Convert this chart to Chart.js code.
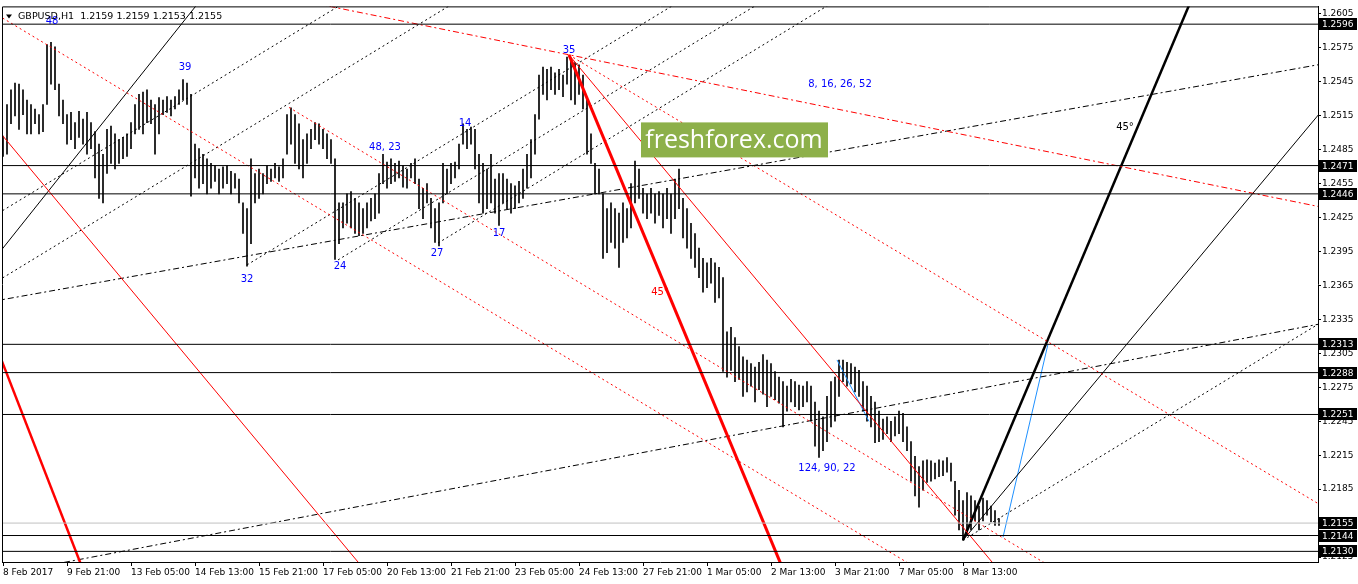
<!DOCTYPE html>
<html>
<head>
<meta charset="utf-8">
<script src="https://cdn.jsdelivr.net/npm/chart.js@4/dist/chart.umd.min.js"></script>
<style>
  html, body { margin: 0; padding: 0; background: #fff; }
  #chart { display: block; }
</style>
</head>
<body>
<canvas id="chart" width="1358" height="584"></canvas>
<script>
// ---- data ----
const timeLabels = ["8 Feb 2017", "9 Feb 21:00", "13 Feb 05:00", "14 Feb 13:00", "15 Feb 21:00",
  "17 Feb 05:00", "20 Feb 13:00", "21 Feb 21:00", "23 Feb 05:00", "24 Feb 13:00", "27 Feb 21:00",
  "1 Mar 05:00", "2 Mar 13:00", "3 Mar 21:00", "7 Mar 05:00", "8 Mar 13:00"];
const labelHours = [0, 32, 64, 96, 128, 160, 192, 224, 256, 288, 320, 352, 384, 416, 448, 480];
const priceTicks = [1.2125, 1.2155, 1.2185, 1.2215, 1.2245, 1.2275, 1.2305, 1.2335, 1.2365,
  1.2395, 1.2425, 1.2455, 1.2485, 1.2515, 1.2545, 1.2575, 1.2605];

// one bar every 2 hours
const highs = [
  1.2497, 1.2525, 1.2538, 1.2544, 1.2543, 1.2538, 1.2529, 1.2525, 1.2521, 1.2516,
  1.2525, 1.2578, 1.2580, 1.2576, 1.2543, 1.2529, 1.2516, 1.2518, 1.2509, 1.2519,
  1.2512, 1.2518, 1.2509, 1.2501, 1.2490, 1.2481, 1.2503, 1.2506, 1.2499, 1.2494,
  1.2496, 1.2499, 1.2509, 1.2525, 1.2534, 1.2536, 1.2538, 1.2529, 1.2525, 1.2531,
  1.2529, 1.2532, 1.2529, 1.2532, 1.2538, 1.2547, 1.2544, 1.2534, 1.2490, 1.2486,
  1.2481, 1.2477, 1.2473, 1.2471, 1.2468, 1.2470, 1.2471, 1.2466, 1.2464, 1.2459,
  1.2438, 1.2433, 1.2477, 1.2464, 1.2468, 1.2464, 1.2471, 1.2468, 1.2473, 1.2470,
  1.2477, 1.2516, 1.2522, 1.2516, 1.2508, 1.2494, 1.2499, 1.2503, 1.2509, 1.2508,
  1.2503, 1.2499, 1.2494, 1.2477, 1.2438, 1.2438, 1.2446, 1.2448, 1.2442, 1.2438,
  1.2433, 1.2438, 1.2442, 1.2446, 1.2464, 1.2481, 1.2474, 1.2477, 1.2473, 1.2475,
  1.2471, 1.2468, 1.2473, 1.2477, 1.2459, 1.2451, 1.2455, 1.2442, 1.2433, 1.2438,
  1.2473, 1.2468, 1.2473, 1.2474, 1.2490, 1.2508, 1.2503, 1.2505, 1.2503, 1.2481,
  1.2473, 1.2468, 1.2481, 1.2459, 1.2464, 1.2464, 1.2459, 1.2455, 1.2453, 1.2457,
  1.2468, 1.2481, 1.2494, 1.2516, 1.2551, 1.2558, 1.2556, 1.2558, 1.2553, 1.2556,
  1.2551, 1.2567, 1.2564, 1.2562, 1.2560, 1.2551, 1.2529, 1.2499, 1.2473, 1.2468,
  1.2446, 1.2433, 1.2438, 1.2433, 1.2429, 1.2438, 1.2433, 1.2455, 1.2475, 1.2468,
  1.2451, 1.2446, 1.2451, 1.2446, 1.2448, 1.2446, 1.2451, 1.2446, 1.2459, 1.2468,
  1.2442, 1.2433, 1.2420, 1.2411, 1.2398, 1.2389, 1.2385, 1.2389, 1.2385, 1.2381,
  1.2372, 1.2324, 1.2328, 1.2319, 1.2311, 1.2302, 1.2299, 1.2296, 1.2293, 1.2297,
  1.2304, 1.2299, 1.2296, 1.2289, 1.2284, 1.2280, 1.2276, 1.2282, 1.2280, 1.2277,
  1.2276, 1.2280, 1.2276, 1.2262, 1.2254, 1.2249, 1.2267, 1.2280, 1.2284, 1.2299,
  1.2299, 1.2297, 1.2296, 1.2293, 1.2290, 1.2280, 1.2276, 1.2267, 1.2262, 1.2254,
  1.2247, 1.2249, 1.2245, 1.2249, 1.2254, 1.2252, 1.2240, 1.2227, 1.2214, 1.2205,
  1.2210, 1.2211, 1.2210, 1.2208, 1.2211, 1.2210, 1.2213, 1.2208, 1.2192, 1.2184,
  1.2175, 1.2182, 1.2179, 1.2175, 1.2170, 1.2177, 1.2175, 1.2170, 1.2166, 1.2159
];
const lows = [
  1.2479, 1.2481, 1.2508, 1.2515, 1.2503, 1.2516, 1.2499, 1.2499, 1.2508, 1.2499,
  1.2501, 1.2525, 1.2543, 1.2538, 1.2515, 1.2508, 1.2490, 1.2494, 1.2486, 1.2496,
  1.2490, 1.2481, 1.2486, 1.2460, 1.2442, 1.2438, 1.2464, 1.2473, 1.2468, 1.2473,
  1.2477, 1.2479, 1.2486, 1.2499, 1.2503, 1.2499, 1.2509, 1.2508, 1.2481, 1.2499,
  1.2516, 1.2518, 1.2515, 1.2521, 1.2525, 1.2529, 1.2525, 1.2444, 1.2460, 1.2451,
  1.2455, 1.2446, 1.2451, 1.2457, 1.2446, 1.2451, 1.2455, 1.2446, 1.2451, 1.2438,
  1.2411, 1.2382, 1.2402, 1.2438, 1.2442, 1.2446, 1.2455, 1.2457, 1.2460, 1.2457,
  1.2460, 1.2481, 1.2490, 1.2473, 1.2468, 1.2460, 1.2473, 1.2486, 1.2494, 1.2490,
  1.2486, 1.2477, 1.2473, 1.2388, 1.2402, 1.2416, 1.2420, 1.2416, 1.2411, 1.2409,
  1.2411, 1.2416, 1.2422, 1.2424, 1.2429, 1.2455, 1.2451, 1.2455, 1.2457, 1.2460,
  1.2452, 1.2451, 1.2460, 1.2455, 1.2433, 1.2424, 1.2438, 1.2416, 1.2403, 1.2400,
  1.2438, 1.2446, 1.2455, 1.2460, 1.2468, 1.2490, 1.2486, 1.2490, 1.2468, 1.2438,
  1.2429, 1.2433, 1.2438, 1.2429, 1.2418, 1.2438, 1.2433, 1.2429, 1.2433, 1.2438,
  1.2442, 1.2451, 1.2460, 1.2481, 1.2512, 1.2534, 1.2529, 1.2538, 1.2534, 1.2538,
  1.2532, 1.2543, 1.2529, 1.2525, 1.2534, 1.2521, 1.2481, 1.2473, 1.2446, 1.2446,
  1.2389, 1.2394, 1.2403, 1.2398, 1.2381, 1.2403, 1.2407, 1.2416, 1.2438, 1.2442,
  1.2429, 1.2424, 1.2429, 1.2420, 1.2427, 1.2416, 1.2424, 1.2411, 1.2424, 1.2433,
  1.2407, 1.2398, 1.2389, 1.2381, 1.2372, 1.2359, 1.2363, 1.2367, 1.2350, 1.2354,
  1.2289, 1.2284, 1.2290, 1.2280, 1.2282, 1.2267, 1.2271, 1.2276, 1.2262, 1.2273,
  1.2269, 1.2258, 1.2267, 1.2264, 1.2261, 1.2240, 1.2254, 1.2262, 1.2258, 1.2255,
  1.2258, 1.2262, 1.2245, 1.2223, 1.2213, 1.2219, 1.2227, 1.2240, 1.2245, 1.2267,
  1.2280, 1.2276, 1.2278, 1.2271, 1.2267, 1.2254, 1.2245, 1.2240, 1.2226, 1.2227,
  1.2229, 1.2234, 1.2227, 1.2232, 1.2234, 1.2227, 1.2219, 1.2192, 1.2179, 1.2169,
  1.2184, 1.2191, 1.2192, 1.2194, 1.2196, 1.2197, 1.2200, 1.2192, 1.2162, 1.2149,
  1.2140, 1.2144, 1.2149, 1.2157, 1.2149, 1.2157, 1.2162, 1.2156, 1.2153, 1.2153
];
const BAR_HOURS = 2;

const levels = [1.2596, 1.2471, 1.2446, 1.2313, 1.2288, 1.2251, 1.2144, 1.2130];
const lastPrice = 1.2155;
const titleText = "GBPUSD,H1  1.2159 1.2159 1.2153 1.2155";

// drawing objects, anchors as [hour, price]
const redArcTop   = [[166, 1.26108], [657.5, 1.24349]];
const redChan1    = [[0, 1.26012], [450, 1.21224]];
const redChan2    = [[143, 1.25224], [520, 1.21206]];
const redChan3    = [[283, 1.25688], [657.5, 1.21723]];
const redThin35   = [[283, 1.25688], [494.5, 1.21206]];
const redFan45    = [[283, 1.25688], [388.5, 1.21206]];
const redThickL   = [[0, 1.22957], [38.5, 1.21206]];
const redThinL    = [[0, 1.24970], [177.5, 1.21206]];
const blackThinL  = [[0, 1.23981], [95.5, 1.26100]];
const blackFan45  = [[480, 1.21399], [593, 1.26126]];
const blackFan2   = [[480, 1.21399], [657.5, 1.25154]];
const blackFan3   = [[480, 1.21399], [657.5, 1.23307]];
const dashUpper   = [[0, 1.23526], [657.5, 1.25601]];
const dashLower   = [[318.5, 1.22169], [657.5, 1.23307]];
const dotA        = [[0, 1.24314], [168.5, 1.26126]];
const dotB        = [[0, 1.23719], [223.5, 1.26126]];
const dot32       = [[122, 1.23832], [335, 1.26126]];
const dot24       = [[167.5, 1.23876], [376.5, 1.26126]];
const dot27       = [[217.5, 1.24025], [412.5, 1.26126]];
const blueUp      = [[500, 1.21425], [522.5, 1.23132]];
const blueSmall   = [[417, 1.22992], [433, 1.22449]];

const notes = [
  ["48", 24.5, 1.25986, "#0000ff"], ["39", 91, 1.25575, "#0000ff"], ["32", 122, 1.23701, "#0000ff"],
  ["24", 168.5, 1.23815, "#0000ff"], ["48, 23", 191, 1.24874, "#0000ff"], ["27", 217, 1.23937, "#0000ff"],
  ["14", 231, 1.25084, "#0000ff"], ["17", 248, 1.24113, "#0000ff"], ["35", 283, 1.25732, "#0000ff"],
  ["8, 16, 26, 52", 418.5, 1.25426, "#0000ff"], ["124, 90, 22", 412, 1.22029, "#0000ff"],
  ["45°", 328.5, 1.23587, "#ff0000"], ["45°", 561, 1.25049, "#000000"]
];

// ---- helpers ----
const X_MIN = -0.5, X_MAX = 657.5;
const Y_MIN = 1.21206, Y_MAX = 1.26117;

// clip an anchored line to the visible range; mode: both | ray | seg
function clipLine(a, b, mode) {
  let t0 = mode === 'both' ? -1e6 : 0;
  let t1 = mode === 'seg' ? 1 : 1e6;
  const dx = b[0] - a[0], dy = b[1] - a[1];
  const xl = X_MIN - 4, xr = X_MAX + 4, yl = Y_MIN - 0.0005, yh = Y_MAX + 0.0005;
  const p = [-dx, dx, -dy, dy];
  const q = [a[0] - xl, xr - a[0], a[1] - yl, yh - a[1]];
  for (let i = 0; i < 4; i++) {
    if (p[i] === 0) { if (q[i] < 0) return []; continue; }
    const r = q[i] / p[i];
    if (p[i] < 0) t0 = Math.max(t0, r); else t1 = Math.min(t1, r);
  }
  if (t0 > t1) return [];
  return [{ x: a[0] + t0 * dx, y: a[1] + t0 * dy }, { x: a[0] + t1 * dx, y: a[1] + t1 * dy }];
}

const DOT = [2, 3], DASHDOT = [6, 3, 2, 3];
function lineSet(anchors, mode, color, width, dash) {
  return {
    type: 'line', data: clipLine(anchors[0], anchors[1], mode),
    borderColor: color, borderWidth: width, borderDash: dash || [],
    pointRadius: 0, fill: false, tension: 0, order: 1
  };
}

const datasets = [];
levels.forEach(v => datasets.push(lineSet([[0, v], [1, v]], 'both', '#000', 1)));
datasets.push(lineSet([[0, lastPrice], [1, lastPrice]], 'both', '#c0c0c0', 1));
datasets.push(
  lineSet(redArcTop, 'both', '#ff0000', 1, DASHDOT),
  lineSet(redChan1, 'both', '#ff0000', 1, DOT),
  lineSet(redChan2, 'ray', '#ff0000', 1, DOT),
  lineSet(redChan3, 'ray', '#ff0000', 1, DOT),
  lineSet(redThin35, 'ray', '#ff0000', 1),
  lineSet(redFan45, 'ray', '#ff0000', 3),
  lineSet(redThickL, 'both', '#ff0000', 2.5),
  lineSet(redThinL, 'both', '#ff0000', 1),
  lineSet(blackThinL, 'both', '#000', 1),
  lineSet(blackFan45, 'ray', '#000', 2.5),
  lineSet(blackFan2, 'ray', '#000', 1),
  lineSet(blackFan3, 'ray', '#000', 1, DOT),
  lineSet(dashUpper, 'both', '#000', 1, DASHDOT),
  lineSet(dashLower, 'both', '#000', 1, DASHDOT),
  lineSet(dotA, 'both', '#000', 1, DOT),
  lineSet(dotB, 'both', '#000', 1, DOT),
  lineSet(dot32, 'ray', '#000', 1, DOT),
  lineSet(dot24, 'ray', '#000', 1, DOT),
  lineSet(dot27, 'ray', '#000', 1, DOT),
  lineSet(blueUp, 'seg', '#1e90ff', 1),
  lineSet(blueSmall, 'seg', '#1e90ff', 1)
);
datasets.push({
  type: 'bar',
  data: highs.map((h, i) => ({ x: i * BAR_HOURS, y: [lows[i], h] })),
  backgroundColor: '#000', borderWidth: 0, barThickness: 1, grouped: false, order: 5
});

const decor = {
  id: 'decor',
  afterDraw(chart) {
    const { ctx, chartArea: a, scales: { x, y } } = chart;
    ctx.save();
    // left / top frame
    ctx.strokeStyle = '#000';
    ctx.lineWidth = 1;
    ctx.beginPath();
    ctx.moveTo(a.left + 0.5, a.bottom);
    ctx.lineTo(a.left + 0.5, a.top + 0.5);
    ctx.lineTo(a.right, a.top + 0.5);
    ctx.stroke();

    // text notes
    ctx.font = '10px "DejaVu Sans"';
    ctx.textAlign = 'center';
    ctx.textBaseline = 'middle';
    notes.forEach(([t, h, p, c]) => {
      ctx.fillStyle = c;
      ctx.fillText(t, x.getPixelForValue(h), y.getPixelForValue(p));
    });

    // watermark
    ctx.fillStyle = '#8db04a';
    ctx.fillRect(a.left + 639, a.top + 116, 187, 35);
    ctx.fillStyle = '#fff';
    ctx.font = '25px "Open Sans"';
    ctx.textAlign = 'center';
    ctx.fillText('freshforex.com', a.left + 732, a.top + 134);

    // title
    ctx.fillStyle = '#000';
    ctx.beginPath();
    ctx.moveTo(a.left + 4, a.top + 8);
    ctx.lineTo(a.left + 10, a.top + 8);
    ctx.lineTo(a.left + 7, a.top + 12);
    ctx.closePath();
    ctx.fill();
    ctx.font = '9.5px "DejaVu Sans"';
    ctx.textAlign = 'left';
    ctx.fillText(titleText, a.left + 16, a.top + 10);

    // price boxes on the axis
    ctx.font = '9px "DejaVu Sans"';
    levels.concat([lastPrice]).forEach(v => {
      const py = Math.round(y.getPixelForValue(v));
      ctx.fillStyle = '#000';
      ctx.fillRect(a.right + 1, py - 6, 38, 12);
      ctx.fillStyle = '#fff';
      ctx.fillText(v.toFixed(4), a.right + 4, py + 0.5);
    });
    ctx.restore();
  }
};

Chart.defaults.font.family = '"DejaVu Sans"';
new Chart(document.getElementById('chart'), {
  type: 'bar',
  data: { datasets },
  options: {
    responsive: false,
    animation: false,
    devicePixelRatio: 1,
    events: [],
    layout: { padding: { left: 2, top: 1, right: 0, bottom: 0 } },
    plugins: { legend: { display: false }, tooltip: { enabled: false } },
    scales: {
      x: {
        type: 'linear', min: X_MIN, max: X_MAX, offset: false, position: 'bottom',
        afterFit: s => { s.height = 22; },
        afterBuildTicks: s => { s.ticks = labelHours.map(v => ({ value: v })); },
        grid: { drawOnChartArea: false, offset: false, tickLength: 4, color: '#000' },
        border: { display: true, color: '#000', width: 1 },
        ticks: {
          align: 'start', padding: 1, color: '#000', autoSkip: false, maxRotation: 0,
          font: { size: 9 },
          callback: (v, i) => timeLabels[i]
        }
      },
      y: {
        type: 'linear', position: 'right', min: Y_MIN, max: Y_MAX,
        afterFit: s => { s.width = 40; },
        afterBuildTicks: s => { s.ticks = priceTicks.map(v => ({ value: v })); },
        grid: { drawOnChartArea: false, tickLength: 3, color: '#000' },
        border: { display: true, color: '#000', width: 1 },
        ticks: {
          padding: 1, color: '#000', autoSkip: false, font: { size: 9 },
          callback: v => v.toFixed(4)
        }
      }
    }
  },
  plugins: [decor]
});
</script>
</body>
</html>
